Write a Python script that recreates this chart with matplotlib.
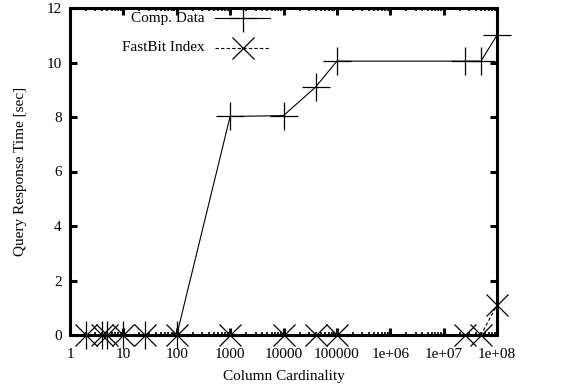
import matplotlib
matplotlib.use("Agg")
import matplotlib.pyplot as plt
from matplotlib.lines import Line2D
from matplotlib.ticker import LogLocator, FixedLocator, FixedFormatter, NullFormatter

cardinality = [2, 4, 5, 10, 25, 100, 1000, 10000, 40000, 100000, 25e6, 50e6, 1e8]
comp_data = [0, 0, 0, 0, 0, 0, 8.02, 8.05, 9.1, 10.05, 10.05, 10.05, 11.0]
fastbit = [0, 0, 0, 0, 0, 0, 0, 0, 0, 0, 0, 0, 1.1]
x_ticks = [1, 10, 100, 1000, 10000, 100000, 1e6, 1e7, 1e8]
x_tick_labels = ["1", "10", "100", "1000", "10000", "100000", "1e+06", "1e+07", "1e+08"]
y_ticks = [0, 2, 4, 6, 8, 10, 12]

plt.rcParams['font.family'] = ['Liberation Serif', 'DejaVu Serif']
plt.rcParams['font.size'] = 11

fig = plt.figure(figsize=(5.64, 3.86), dpi=100)
ax = fig.add_axes([70/564, 1-335/386, 427/564, 327/386])

ax.plot(cardinality, comp_data, color='black', lw=0.8, marker='+', ms=20, mew=0.9, clip_on=False, zorder=3)
ax.plot(cardinality, fastbit, color='black', lw=0.8, ls=(0, (3, 2)), marker='x', ms=16, mew=0.9, clip_on=False, zorder=3)

ax.set_xscale('log')
ax.set_xlim(1, 1e8)
ax.set_ylim(0, 12)
ax.xaxis.set_major_locator(FixedLocator(x_ticks))
ax.xaxis.set_major_formatter(FixedFormatter(x_tick_labels))
ax.xaxis.set_minor_locator(LogLocator(base=10, subs=[2, 3, 4, 5, 6, 7, 8, 9], numticks=20))
ax.xaxis.set_minor_formatter(NullFormatter())
ax.set_yticks(y_ticks)

for s in ax.spines.values():
    s.set_linewidth(2.2)
ax.tick_params(which='major', direction='in', length=5, width=2.2, top=True, right=True, pad=6)
ax.tick_params(axis='x', which='major', pad=9)
ax.tick_params(which='minor', direction='in', length=2.5, width=1.2, top=True, right=False)
ax.tick_params(axis='y', which='minor', left=False, right=False)

ax.set_xlabel('Column Cardinality', labelpad=7)
ax.set_ylabel('Query Response Time [sec]', labelpad=14)

# legend drawn manually (gnuplot style: right-aligned text, sample to the right)
legend_rows = [("Comp. Data", dict(ls='-', marker='+', ms=20)),
               ("FastBit Index", dict(ls=(0, (3, 2)), marker='x', ms=16))]
ys = [0.969, 0.878]
for (label, st), yy in zip(legend_rows, ys):
    ax.text(0.316, yy, label, transform=ax.transAxes, ha='right', va='center')
    ax.add_line(Line2D([0.340, 0.468], [yy, yy], transform=ax.transAxes, color='black', lw=0.8, ls=st['ls']))
    ax.add_line(Line2D([0.404], [yy], transform=ax.transAxes, color='black', marker=st['marker'], ms=st['ms'], mew=0.9, ls='none'))

fig.savefig('out.png', dpi=100)
